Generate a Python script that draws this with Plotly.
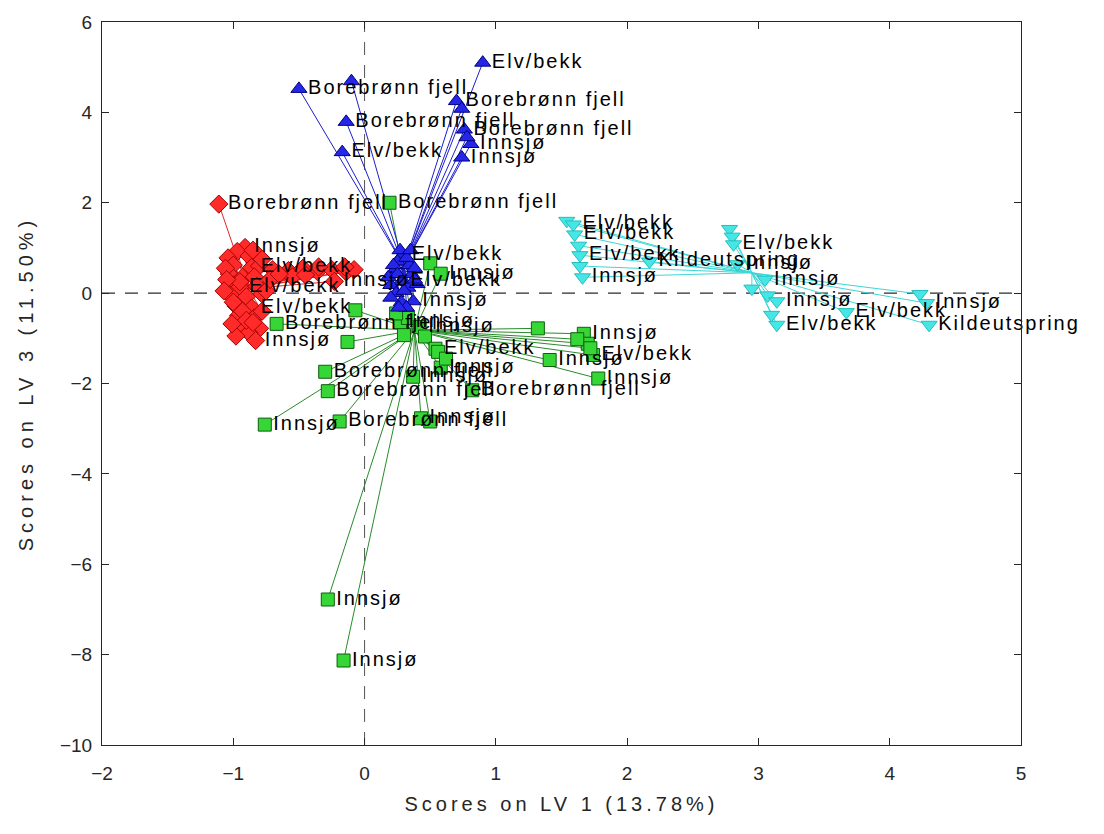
import plotly.graph_objects as go

# ---- Scores on LV 1 / LV 3, one block per class -------------------------
red_x = [-1.11, -0.91, -0.97, -1.04, -0.88, -1.00, -0.86, -0.80, -1.03, -0.93,
         -0.84, -0.70, -0.58, -0.47, -0.36, -0.25, -0.14, -0.08, -0.55, -0.23,
         -1.00, -0.95, -0.82, -1.02, -0.90, -0.78, -0.98, -0.86, -0.96, -0.84,
         -0.92, -0.80, -0.88, -0.83, -0.95, -1.06, -1.05, -1.07, -1.00, -0.93,
         -0.90, -0.85, -0.78, -0.75, -0.72, -0.85, -0.78, -0.65, -0.45, -0.35,
         -0.15, -0.98, -1.01]
red_y = [1.97, 1.01, 0.92, 0.78, 0.82, 0.62, 0.57, 0.60, 0.42, 0.35,
         0.36, 0.52, 0.50, 0.55, 0.48, 0.52, 0.47, 0.52, 0.36, 0.26,
         0.18, 0.13, 0.15, -0.05, -0.08, -0.02, -0.28, -0.33, -0.50, -0.55,
         -0.72, -0.78, -0.88, -1.05, 0.25, 0.55, 0.30, 0.05, -0.20, -0.40,
         -0.60, -0.65, -0.40, 0.05, 0.30, 0.95, 0.75, 0.42, 0.40, 0.58,
         0.58, -0.95, -0.68]
red_lbl = ["Borebrønn fjell", "Innsjø", "", "", "", "", "Elv/bekk", "", "", "",
           "", "", "", "", "", "", "", "", "", "Innsjø",
           "", "Elv/bekk", "", "", "", "", "", "Elv/bekk", "", "",
           "", "", "", "Innsjø", "", "", "", "", "", "",
           "", "", "", "", "", "", "", "", "", "",
           "", "", ""]
red_centre = (-0.89, 0.10)

green_x = [0.19, 0.50, 0.58, -0.07, -0.67, -0.13, 0.27, 0.33, 0.42, 0.30,
           0.46, 0.54, 0.56, 0.58, 0.37, 1.32, 1.67, 1.70, 1.41, 1.74,
           1.78, 0.82, -0.30, -0.28, -0.76, -0.19, 0.43, 0.50, -0.28, -0.16,
           1.62, 1.72, 0.62, 0.24]
green_y = [2.00, 0.66, 0.43, -0.38, -0.68, -1.08, -0.64, -0.55, -0.75, -0.93,
           -0.96, -1.23, -1.30, -1.65, -1.85, -0.78, -0.90, -1.12, -1.48, -1.37,
           -1.89, -2.15, -1.74, -2.17, -2.91, -2.84, -2.77, -2.84, -6.78, -8.13,
           -1.02, -1.22, -1.45, -0.45]
green_lbl = ["Borebrønn fjell", "", "Innsjø", "", "Borebrønn fjell", "", "Innsjø", "", "Innsjø", "",
             "", "Elv/bekk", "", "Innsjø", "Innsjø", "", "Innsjø", "", "Innsjø", "Elv/bekk",
             "Innsjø", "Borebrønn fjell", "Borebrønn fjell", "Borebrønn fjell", "Innsjø",
             "Borebrønn fjell", "Innsjø", "", "Innsjø", "Innsjø",
             "", "", "", ""]
green_centre = (0.38, -0.82)

blue_x = [-0.50, -0.10, -0.14, -0.17, 0.90, 0.70, 0.74, 0.76, 0.81, 0.74,
          0.78, 0.29, 0.25, 0.34, 0.22, 0.36, 0.28, 0.20, 0.33, 0.24,
          0.37, 0.28, 0.32, 0.40, 0.18, 0.27, 0.32, 0.22, 0.38, 0.25,
          0.30, 0.38, 0.20, 0.26, 0.35]
blue_y = [4.52, 4.69, 3.79, 3.12, 5.10, 4.25, 4.08, 3.62, 3.30, 3.00,
          3.45, 0.85, 0.70, 0.62, 0.48, 0.42, 0.26, 0.18, 0.12, 0.00,
          -0.18, -0.20, -0.32, 0.20, 0.35, 0.95, 0.78, 0.62, 0.55, 0.42,
          0.05, 0.30, -0.10, -0.32, 0.95]
blue_lbl = ["Borebrønn fjell", "", "Borebrønn fjell", "Elv/bekk", "Elv/bekk",
            "Borebrønn fjell", "", "Borebrønn fjell", "Innsjø", "Innsjø",
            "", "Elv/bekk", "", "", "", "", "Elv/bekk", "", "", "",
            "Innsjø", "", "", "", "", "", "", "", "", "",
            "", "", "", "", ""]
blue_centre = (0.30, 0.60)

cyan_x = [1.54, 1.59, 1.60, 1.63, 1.64, 1.66, 1.64, 2.17, 2.78, 2.80,
          2.81, 2.84, 3.05, 3.07, 3.14, 3.14, 3.67, 4.23, 4.28, 4.30,
          2.95, 3.10]
cyan_y = [1.60, 1.52, 1.30, 1.05, 0.84, 0.35, 0.60, 0.70, 1.42, 1.25,
          1.08, 0.64, 0.30, -0.05, -0.18, -0.70, -0.42, -0.02, -0.22, -0.70,
          0.10, -0.48]
cyan_lbl = ["", "Elv/bekk", "Elv/bekk", "", "Elv/bekk", "Innsjø", "", "Kildeutspring",
            "", "", "Elv/bekk", "Innsjø", "Innsjø", "", "Innsjø", "Elv/bekk",
            "Elv/bekk", "", "Innsjø", "Kildeutspring", "", ""]
cyan_centre = (2.95, 0.45)

# ---- styling per class -------------------------------------------------
classes = [
    dict(x=red_x, y=red_y, lbl=red_lbl, c=red_centre, symbol="diamond", size=14,
         fill="#FF2B2B", edge="#A80000", line="#E02828"),
    dict(x=green_x, y=green_y, lbl=green_lbl, c=green_centre, symbol="square", size=13,
         fill="#36D636", edge="#0E5E0E", line="#2A8A2A"),
    dict(x=blue_x, y=blue_y, lbl=blue_lbl, c=blue_centre, symbol="triangle-up", size=14,
         fill="#2626E8", edge="#00007A", line="#1E1ECC"),
    dict(x=cyan_x, y=cyan_y, lbl=cyan_lbl, c=cyan_centre, symbol="triangle-down", size=14,
         fill="#45E6E6", edge="#26BDBD", line="#3ED6D6"),
]

LABEL_FONT = dict(family="Liberation Sans, Arial, sans-serif", size=20, color="#000000")
SPACED = '<span style="letter-spacing:2px">{}</span>'

fig = go.Figure()

# star lines from every sample to its class centre
for cl in classes:
    lx, ly = [], []
    cx, cy = cl["c"]
    for px, py in zip(cl["x"], cl["y"]):
        lx += [px, cx, None]
        ly += [py, cy, None]
    fig.add_trace(go.Scatter(x=lx, y=ly, mode="lines",
                             line=dict(color=cl["line"], width=1),
                             hoverinfo="skip", showlegend=False))

# markers
for cl in classes:
    fig.add_trace(go.Scatter(x=cl["x"], y=cl["y"], mode="markers",
                             marker=dict(symbol=cl["symbol"], size=cl["size"],
                                         color=cl["fill"],
                                         line=dict(color=cl["edge"], width=1)),
                             showlegend=False))

# sample labels on top of everything
for cl in classes:
    tx = [px for px, t in zip(cl["x"], cl["lbl"]) if t]
    ty = [py for py, t in zip(cl["y"], cl["lbl"]) if t]
    tt = [SPACED.format(t) for t in cl["lbl"] if t]
    fig.add_trace(go.Scatter(x=tx, y=ty, mode="markers+text", text=tt,
                             textposition="middle right", textfont=LABEL_FONT,
                             marker=dict(size=cl["size"] - 1, opacity=0),
                             cliponaxis=False,
                             hoverinfo="skip", showlegend=False))

# dashed zero lines
fig.add_shape(type="line", xref="x", yref="y", x0=-2, x1=5, y0=0, y1=0,
              line=dict(color="#2a2a2a", width=1.2, dash="13px,10px"), layer="below")
fig.add_shape(type="line", xref="x", yref="y", x0=0, x1=0, y0=-10, y1=6,
              line=dict(color="#555555", width=1, dash="13px,10px"), layer="below")

TICK_FONT = dict(family="Liberation Sans, Arial, sans-serif", size=19, color="#262626")
TITLE_FONT = dict(family="Liberation Sans Narrow, Liberation Sans, Arial, sans-serif",
                  size=20, color="#262626")
axis_common = dict(showgrid=False, zeroline=False, showline=True, mirror="ticks",
                   linecolor="#262626", linewidth=1, ticks="inside", ticklen=7,
                   tickcolor="#262626", tickfont=TICK_FONT)

fig.update_layout(
    width=1104, height=834,
    margin=dict(l=102, r=83, t=18, b=89),
    paper_bgcolor="white", plot_bgcolor="white",
    xaxis=dict(range=[-2, 5], tick0=-2, dtick=1, ticklabelstandoff=11,
               title=dict(text='<span style="letter-spacing:4px">Scores on LV 1 (13.78%)</span>',
                          font=TITLE_FONT, standoff=14),
               **axis_common),
    yaxis=dict(range=[-10, 6], tick0=-10, dtick=2, ticklabelstandoff=5,
               title=dict(text='<span style="letter-spacing:5px">Scores on LV 3 (11.50%)</span>',
                          font=TITLE_FONT, standoff=20),
               **axis_common),
)

fig.write_html("out.html")
